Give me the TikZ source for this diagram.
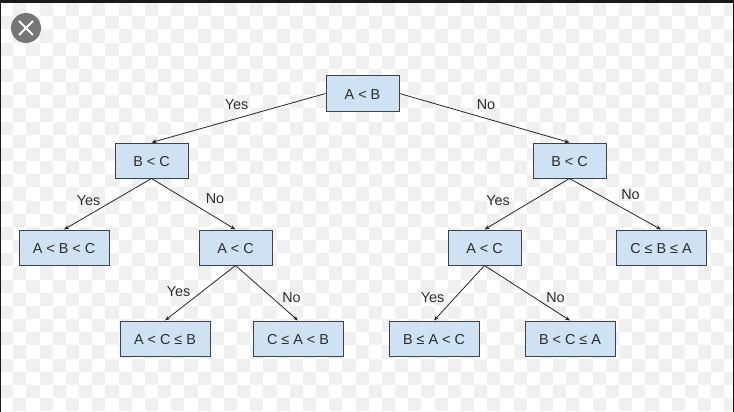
\documentclass[tikz,border=0pt]{standalone}
\usepackage{fontspec}
\setmainfont{Liberation Sans}
\definecolor{boxfill}{HTML}{CFE2F3}
\definecolor{boxline}{HTML}{3A444C}
\definecolor{txt}{HTML}{2B2B2B}
\definecolor{chk}{HTML}{F0F0F0}
\definecolor{closegrey}{HTML}{767676}
\usetikzlibrary{arrows.meta}
\tikzset{
  px/.style={x=1pt,y=-1pt},
  box/.style={draw=boxline,line width=1pt,fill=boxfill,rectangle,inner sep=0pt,minimum height=35pt,text=txt,text height=11.8pt,text depth=0pt,font=\fontsize{14.4}{16}\selectfont},
  nar/.style={box,minimum width=73pt},
  wid/.style={box,minimum width=90pt},
  conn/.style={draw=black!85,line width=0.8pt,-{Stealth[length=5pt,width=4pt]}},
  lab/.style={text=txt,font=\fontsize{14.4}{16}\selectfont,inner sep=0pt},
}
\begin{document}
\begin{tikzpicture}[px]
\useasboundingbox (0,0) rectangle (734,412);
\fill[white] (0,0) rectangle (734,412);
% checkerboard
\foreach \r in {0,...,30}{
  \foreach \c in {0,...,56}{
    \pgfmathtruncatemacro{\odd}{mod(\r+\c,2)}
    \ifnum\odd=1
      \fill[chk] ({\c*13.17},{3+\r*13.17}) rectangle ++(13.17,13.17);
    \fi
  }
}
% frame strips
\fill[black!90] (0,0) rectangle (734,3);
\fill[black!90] (0,0) rectangle (1,412);
\fill[black!90] (733,0) rectangle (734,412);
% close button
\node[circle,fill=closegrey,minimum size=30pt,inner sep=0pt] (close) at (26,28) {};
\draw[white,line width=1.8pt] (close.center) ++(-7,-7) -- ++(14,14);
\draw[white,line width=1.8pt] (close.center) ++(-7,7) -- ++(14,-14);
% nodes
\node[nar] (root) at (362.5,93.5) {A < B};
\node[nar] (l)  at (151.5,160.5) {B < C};
\node[nar] (r)  at (569.5,160.5) {B < C};
\node[wid] (ll) at (64,247.5) {A < B < C};
\node[nar] (lr) at (235.5,247.5) {A < C};
\node[nar] (rl) at (484.5,247.5) {A < C};
\node[wid] (rr) at (661,247.5) {C ≤ B ≤ A};
\node[wid] (lrl) at (165,338.5) {A < C ≤ B};
\node[wid] (lrr) at (298,338.5) {C ≤ A < B};
\node[wid] (rll) at (434,338.5) {B ≤ A < C};
\node[wid] (rlr) at (570,338.5) {B < C ≤ A};
% connectors
\draw[conn] (root.west) -- (l.north);
\draw[conn] (root.east) -- (r.north);
\draw[conn] (l.south) -- (ll.north);
\draw[conn] (l.south) -- (lr.north);
\draw[conn] (r.south) -- (rl.north);
\draw[conn] (r.south) -- (rr.north);
\draw[conn] (lr.south) -- (lrl.north);
\draw[conn] (lr.south) -- (lrr.north);
\draw[conn] (rl.south) -- (rll.north);
\draw[conn] (rl.south) -- (rlr.north);
% labels
\node[lab] (t1) at (236.5,104.7) {Yes};
\node[lab] (t2) at (486,104.7) {No};
\node[lab] (t3) at (88.5,201) {Yes};
\node[lab] (t4) at (215,198.5) {No};
\node[lab] (t5) at (498,201) {Yes};
\node[lab] (t6) at (630.5,194.5) {No};
\node[lab] (t7) at (178.5,292) {Yes};
\node[lab] (t8) at (291.5,298) {No};
\node[lab] (t9) at (432.5,298) {Yes};
\node[lab] (t10) at (555.5,298) {No};
\end{tikzpicture}
\end{document}
